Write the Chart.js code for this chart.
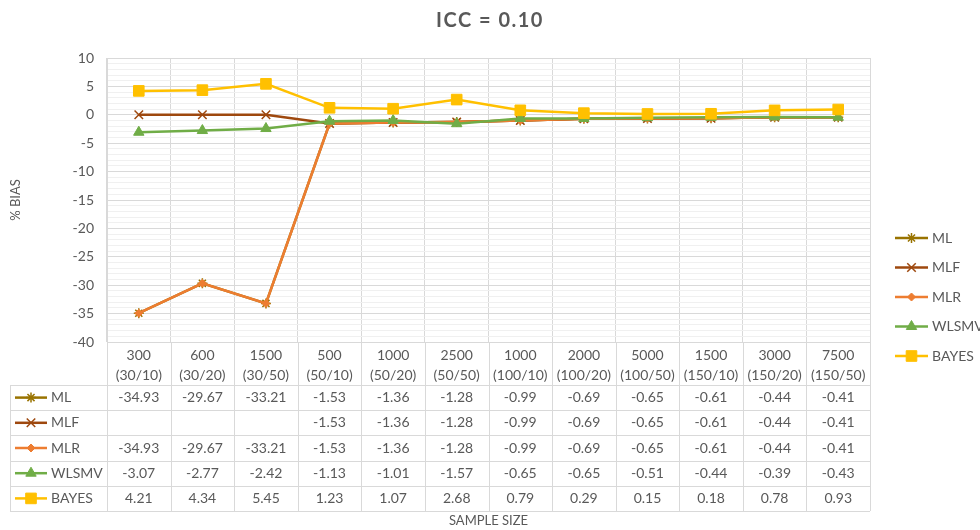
<!DOCTYPE html>
<html>
<head>
<meta charset="utf-8">
<script src="https://cdn.jsdelivr.net/npm/chart.js@4"></script>
<style>
    body { margin: 0; background: #fff; }
    #wrap { width: 980px; height: 530px; }
</style>
</head>
<body>
<div id="wrap"><canvas id="biasChart"></canvas></div>
<script>
// Categories (sample size and cluster/size groups)
const sizes = ["300", "600", "1500", "500", "1000", "2500", "1000", "2000", "5000", "1500", "3000", "7500"];
const groups = ["(30/10)", "(30/20)", "(30/50)", "(50/10)", "(50/20)", "(50/50)", "(100/10)", "(100/20)", "(100/50)", "(150/10)", "(150/20)", "(150/50)"];

// % bias by estimator
const ml = [-34.93, -29.67, -33.21, -1.53, -1.36, -1.28, -0.99, -0.69, -0.65, -0.61, -0.44, -0.41];
const mlf = [null, null, null, -1.53, -1.36, -1.28, -0.99, -0.69, -0.65, -0.61, -0.44, -0.41];
const mlr = [-34.93, -29.67, -33.21, -1.53, -1.36, -1.28, -0.99, -0.69, -0.65, -0.61, -0.44, -0.41];
const wlsmv = [-3.07, -2.77, -2.42, -1.13, -1.01, -1.57, -0.65, -0.65, -0.51, -0.44, -0.39, -0.43];
const bayes = [4.21, 4.34, 5.45, 1.23, 1.07, 2.68, 0.79, 0.29, 0.15, 0.18, 0.78, 0.93];

const yTicks = [10, 5, 0, -5, -10, -15, -20, -25, -30, -35, -40];

const FONT = "Lato, 'Open Sans', sans-serif";
const GREY = "#595959";
const GRID = "#d9d9d9";

const series = [
    {label: "ML", data: ml, color: "#997300", style: "star", radius: 5, fill: false},
    // Excel plots the blank cells as zero
    {label: "MLF", data: mlf, plot: mlf.map(v => v === null ? 0 : v), color: "#9E480E", style: "crossRot", radius: 6, fill: false},
    {label: "MLR", data: mlr, color: "#ED7D31", style: "rectRot", radius: 4, fill: true},
    {label: "WLSMV", data: wlsmv, color: "#70AD47", style: "triangle", radius: 6, fill: true},
    {label: "BAYES", data: bayes, color: "#FFC000", style: "rect", radius: 7.5, fill: true},
];

function drawKey(ctx, s, x1, x2, y) {
    ctx.save();
    ctx.strokeStyle = s.color;
    ctx.lineWidth = 2.5;
    ctx.beginPath();
    ctx.moveTo(x1, y);
    ctx.lineTo(x2, y);
    ctx.stroke();
    ctx.fillStyle = s.color;
    ctx.lineWidth = s.fill ? 1 : 1.5;
    Chart.helpers.drawPoint(ctx, {pointStyle: s.style, radius: s.radius, rotation: 0, borderWidth: ctx.lineWidth}, (x1 + x2) / 2, y);
    ctx.restore();
}

// Draws the title, category labels, data table, legend and x title
const tablePlugin = {
    id: "dataTable",
    afterDraw(chart) {
        const ctx = chart.ctx;
        const area = chart.chartArea;
        const xs = chart.scales.x;
        const n = sizes.length;
        const step = (area.right - area.left) / n;
        const tableLeft = 10;
        const headBottom = 385;
        const rowH = 25.2;
        const tableBottom = headBottom + rowH * series.length;

        ctx.save();
        // title
        ctx.fillStyle = GREY;
        ctx.font = "bold 20px " + FONT;
        ctx.letterSpacing = "1.5px";
        ctx.textAlign = "center";
        ctx.textBaseline = "middle";
        ctx.fillText("ICC = 0.10", 490, 21);
        ctx.letterSpacing = "0px";

        // table grid
        ctx.strokeStyle = GRID;
        ctx.lineWidth = 1;
        ctx.beginPath();
        for (let i = 0; i <= n; i++) {
            const x = Math.round(area.left + i * step) + 0.5;
            ctx.moveTo(x, area.bottom);
            ctx.lineTo(x, tableBottom);
        }
        ctx.moveTo(tableLeft + 0.5, headBottom);
        ctx.lineTo(tableLeft + 0.5, tableBottom);
        for (let r = 0; r <= series.length; r++) {
            const y = Math.round(headBottom + r * rowH) + 0.5;
            ctx.moveTo(tableLeft, y);
            ctx.lineTo(area.right, y);
        }
        ctx.stroke();

        // category labels
        ctx.fillStyle = GREY;
        ctx.font = "14px " + FONT;
        for (let i = 0; i < n; i++) {
            const x = xs.getPixelForValue(i);
            ctx.fillText(sizes[i], x, 355);
            ctx.fillText(groups[i], x, 375);
        }

        // rows
        series.forEach((s, r) => {
            const y = headBottom + (r + 0.5) * rowH;
            drawKey(ctx, s, 15, 47, y);
            ctx.fillStyle = GREY;
            ctx.textAlign = "left";
            ctx.fillText(s.label, 51, y);
            ctx.textAlign = "center";
            s.data.forEach((v, i) => {
                if (v === null) return;
                ctx.fillText(v.toFixed(2), xs.getPixelForValue(i), y);
            });
        });

        // legend
        series.forEach((s, r) => {
            const y = 238 + r * 29.5;
            drawKey(ctx, s, 895, 928, y);
            ctx.fillStyle = GREY;
            ctx.textAlign = "left";
            ctx.fillText(s.label, 932, y);
        });

        // x axis title
        ctx.textAlign = "center";
        ctx.font = "13px " + FONT;
        ctx.fillText("SAMPLE SIZE", (area.left + area.right) / 2, 521);
        ctx.restore();
    }
};

const ctx = document.getElementById("biasChart").getContext("2d");
new Chart(ctx, {
    type: "line",
    data: {
        labels: sizes.map((s, i) => s + " " + groups[i]),
        datasets: series.map((s, i) => ({
            label: s.label,
            data: s.plot || s.data,
            borderColor: s.color,
            backgroundColor: s.color,
            borderWidth: 2.5,
            pointStyle: s.style,
            pointRadius: s.radius,
            pointBorderWidth: s.fill ? 1 : 1.5,
            pointBorderColor: s.color,
            pointBackgroundColor: s.color,
            tension: 0,
            fill: false,
            order: series.length - i,
        })),
    },
    options: {
        responsive: true,
        maintainAspectRatio: false,
        animation: false,
        layout: {padding: {top: 58, right: 110, left: 0, bottom: 0}},
        plugins: {
            legend: {display: false},
            title: {display: false},
            tooltip: {enabled: false},
        },
        scales: {
            x: {
                offset: true,
                afterFit(scale) { scale.height = 188; },
                ticks: {display: false},
                grid: {offset: true, color: GRID, drawTicks: false},
                border: {color: GRID},
            },
            y: {
                min: yTicks[yTicks.length - 1],
                max: yTicks[0],
                afterFit(scale) { scale.width = 107; },
                ticks: {
                    stepSize: 1,
                    autoSkip: false,
                    padding: 13,
                    color: GREY,
                    font: {family: FONT, size: 14},
                    callback: v => yTicks.includes(v) ? v : "",
                },
                grid: {
                    drawTicks: false,
                    color: c => c.tick && c.tick.value % 5 === 0 ? GRID : "#f0f0f0",
                },
                border: {color: GRID},
                title: {
                    display: true,
                    text: "% BIAS",
                    color: GREY,
                    font: {family: FONT, size: 13},
                    padding: {top: 8, bottom: 0},
                },
            },
        },
    },
    plugins: [tablePlugin],
});
</script>
</body>
</html>
